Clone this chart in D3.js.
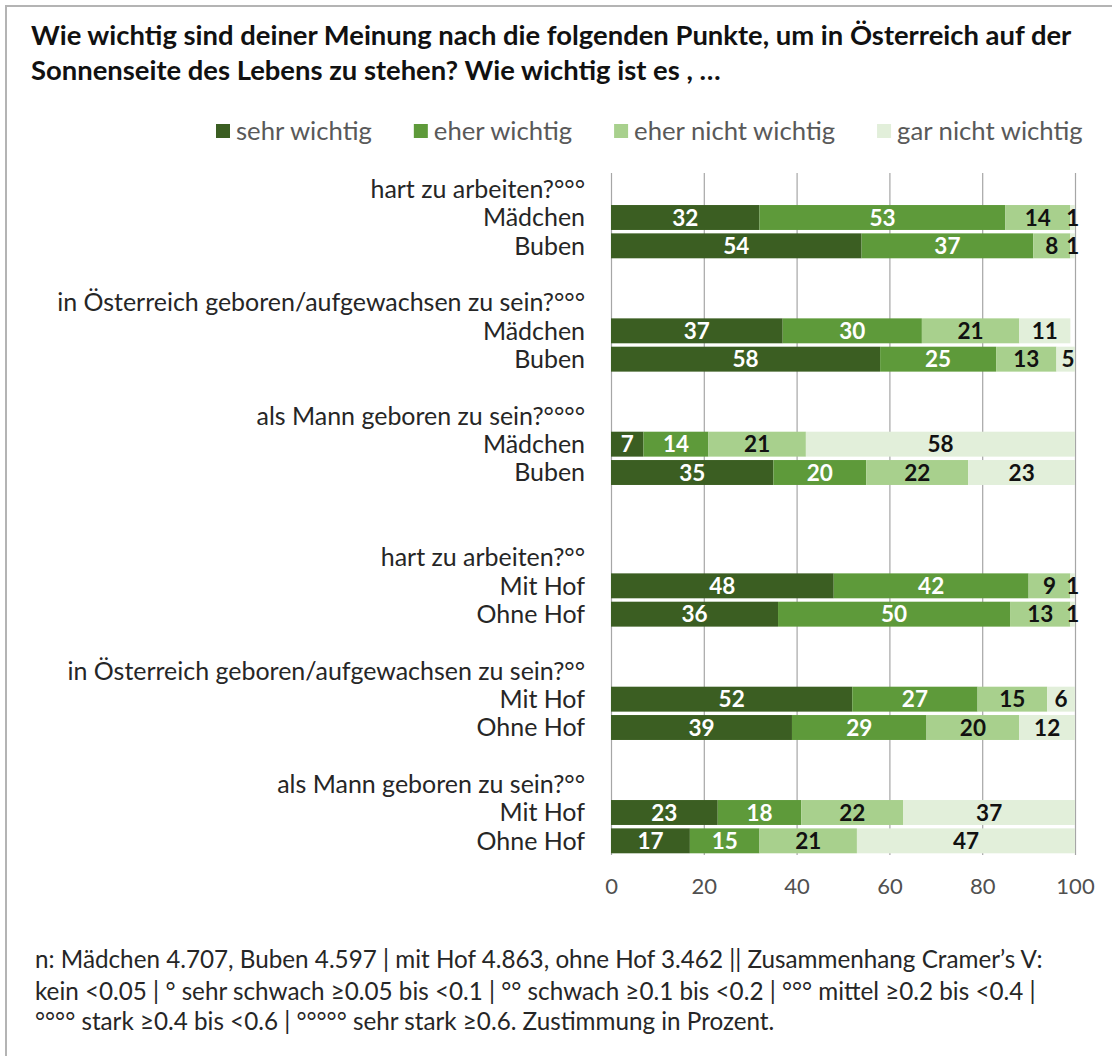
<!DOCTYPE html>
<html>
<head>
<meta charset="utf-8">
<script src="https://cdn.jsdelivr.net/npm/d3@7"></script>
<style>
  body { margin: 0; background: #fff; }
  text { font-family: Lato, "Open Sans", sans-serif; }
</style>
</head>
<body>
<div class="plot"></div>
<script>
// answer categories (stack order) and their colours
const series = ["sehr wichtig", "eher wichtig", "eher nicht wichtig", "gar nicht wichtig"]
const colors = ["#3b5e22", "#5e9a3a", "#a8d08d", "#e2efda"]
const labelColors = ["#fff", "#fff", "#111", "#111"]

const questions = [
  "hart zu arbeiten?°°°",
  "in Österreich geboren/aufgewachsen zu sein?°°°",
  "als Mann geboren zu sein?°°°°",
  "hart zu arbeiten?°°",
  "in Österreich geboren/aufgewachsen zu sein?°°",
  "als Mann geboren zu sein?°°"
]
const groups = [
  ["Mädchen", "Buben"], ["Mädchen", "Buben"], ["Mädchen", "Buben"],
  ["Mit Hof", "Ohne Hof"], ["Mit Hof", "Ohne Hof"], ["Mit Hof", "Ohne Hof"]
]

// one value per bar, bars in drawing order (top to bottom)
const sehrWichtig     = [32, 54, 37, 58,  7, 35, 48, 36, 52, 39, 23, 17]
const eherWichtig     = [53, 37, 30, 25, 14, 20, 42, 50, 27, 29, 18, 15]
const eherNicht       = [14,  8, 21, 13, 21, 22,  9, 13, 15, 20, 22, 21]
const garNicht        = [ 1,  1, 11,  5, 58, 23,  1,  1,  6, 12, 37, 47]
const seriesValues = [sehrWichtig, eherWichtig, eherNicht, garNicht]

const xTicks = [0, 20, 40, 60, 80, 100]

const title = [
  "Wie wichtig sind deiner Meinung nach die folgenden Punkte, um in Österreich auf der",
  "Sonnenseite des Lebens zu stehen? Wie wichtig ist es , …"
]
const footnote = [
  "n: Mädchen 4.707, Buben 4.597 | mit Hof 4.863, ohne Hof 3.462 || Zusammenhang Cramer’s V:",
  "kein <0.05 | ° sehr schwach ≥0.05 bis <0.1 | °° schwach ≥0.1 bis <0.2 | °°° mittel ≥0.2 bis <0.4 |",
  "°°°° stark ≥0.4 bis <0.6 | °°°°° sehr stark ≥0.6. Zustimmung in Prozent."
]

// scale font size of a text so it spans about w pixels (mimics the narrow original font)
function fitWidth(sel, w){
  let fs = parseFloat(sel.style("font-size"))
  let size = fs * w / sel.node().getComputedTextLength()
  sel.style("font-size", size + "px")
  return size
}

let W = 1112, H = 1056
let svg = d3.select(".plot").append("svg")
    .attr("width", W)
    .attr("height", H)

svg.append("rect").attr("width", W).attr("height", H).attr("fill", "#fff")
svg.append("rect")
    .attr("x", 6).attr("y", 6)
    .attr("width", 1200).attr("height", 1200)
    .attr("fill", "none")
    .attr("stroke", "#b4b4b4")
    .attr("stroke-width", 2)

// title
let t1 = svg.append("text").attr("x", 31).attr("y", 45)
    .style("font-size", "24px").style("font-weight", "bold").attr("fill", "#111")
    .text(title[0])
let titleSize = fitWidth(t1, 1041)
svg.append("text").attr("x", 31).attr("y", 80)
    .style("font-size", titleSize + "px").style("font-weight", "bold").attr("fill", "#111")
    .text(title[1])

// rows: question header, two bars, blank line (extra blank between the two blocks)
let rows = [], bars = [], k = 0
questions.forEach(function(q, i){
  rows.push({key: "h" + i, label: q})
  groups[i].forEach(function(g, j){
    let bar = {key: "b" + i + j, label: g}
    series.forEach(function(s, si){ bar[s] = seriesValues[si][k] })
    k++
    rows.push(bar)
    bars.push(bar)
  })
  if(i < questions.length - 1) rows.push({key: "s" + i})
  if(i == 2) rows.push({key: "s2b"})
})

let x = d3.scaleLinear().domain([0, 100]).range([611, 1075])
let y = d3.scaleBand()
    .domain(rows.map(function(d){ return d.key }))
    .range([175, 855])
    .paddingInner(0.12)
    .paddingOuter(0.06)

// gridlines
svg.append("g").selectAll("line")
    .data(xTicks)
    .enter().append("line")
    .attr("x1", function(d){ return x(d) + 0.5 })
    .attr("x2", function(d){ return x(d) + 0.5 })
    .attr("y1", 173)
    .attr("y2", 855)
    .attr("stroke", "#a6a6a6")
    .attr("stroke-width", 1.2)

// x axis labels
let xAxis = d3.axisBottom(x).tickValues(xTicks).tickSize(0).tickPadding(0)
let gx = svg.append("g")
    .attr("transform", "translate(0,878)")
    .call(xAxis)
gx.select(".domain").remove()
gx.selectAll("text")
    .style("font-size", "22px")
    .attr("fill", "#505050")
    .attr("font-family", null)

// stacked bars
svg.append("clipPath").attr("id", "clip")
    .append("rect")
    .attr("x", x(0)).attr("y", 0)
    .attr("width", x(100) - x(0)).attr("height", H)

let stacked = d3.stack().keys(series)(bars)
let layer = svg.append("g").attr("clip-path", "url(#clip)")
    .selectAll("g")
    .data(stacked)
    .enter().append("g")
    .attr("fill", function(d, i){ return colors[i] })
layer.selectAll("rect")
    .data(function(d){ return d })
    .enter().append("rect")
    .attr("x", function(d){ return x(d[0]) })
    .attr("width", function(d){ return x(d[1]) - x(d[0]) })
    .attr("y", function(d){ return y(d.data.key) })
    .attr("height", y.bandwidth())

// value labels
let labels = svg.append("g")
    .selectAll("g")
    .data(stacked)
    .enter().append("g")
    .attr("fill", function(d, i){ return labelColors[i] })
labels.selectAll("text")
    .data(function(d){ return d })
    .enter().append("text")
    .attr("x", function(d){ return x(Math.min((d[0] + d[1]) / 2, 99.6)) })
    .attr("y", function(d){ return y(d.data.key) + y.bandwidth() / 2 })
    .attr("dy", "0.37em")
    .attr("text-anchor", "middle")
    .style("font-size", "22.5px")
    .style("font-weight", "bold")
    .text(function(d){ return d[1] - d[0] })

// category labels
let cat = svg.append("g")
    .selectAll("text")
    .data(rows.filter(function(d){ return d.label }))
    .enter().append("text")
    .attr("x", 585)
    .attr("y", function(d){ return y(d.key) + y.bandwidth() / 2 })
    .attr("dy", "0.35em")
    .attr("text-anchor", "end")
    .attr("fill", "#262626")
    .style("font-size", "22px")
    .text(function(d){ return d.label })
let catSize = fitWidth(d3.select(cat.nodes()[3]), 528)
cat.style("font-size", catSize + "px")

// legend
let probe = svg.append("text").style("font-size", "21px").text(series[2])
let lgSize = fitWidth(probe, 201)
probe.remove()
let lx = 216
series.forEach(function(s, i){
  svg.append("rect")
      .attr("x", lx).attr("y", 124)
      .attr("width", 14).attr("height", 14)
      .attr("fill", colors[i])
  let t = svg.append("text")
      .attr("x", lx + 20).attr("y", 131)
      .attr("dy", "0.35em")
      .style("font-size", lgSize + "px")
      .attr("fill", "#595959")
      .text(s)
  lx += 20 + t.node().getComputedTextLength() + 42
})

// footnote
let f1 = svg.append("text").attr("x", 35).attr("y", 968)
    .style("font-size", "21px").attr("fill", "#262626")
    .text(footnote[0])
let footSize = fitWidth(f1, 1008)
footnote.slice(1).forEach(function(line, i){
  svg.append("text").attr("x", 35).attr("y", 1000 + i * 30)
      .style("font-size", footSize + "px").attr("fill", "#262626")
      .text(line)
})
</script>
</body>
</html>
